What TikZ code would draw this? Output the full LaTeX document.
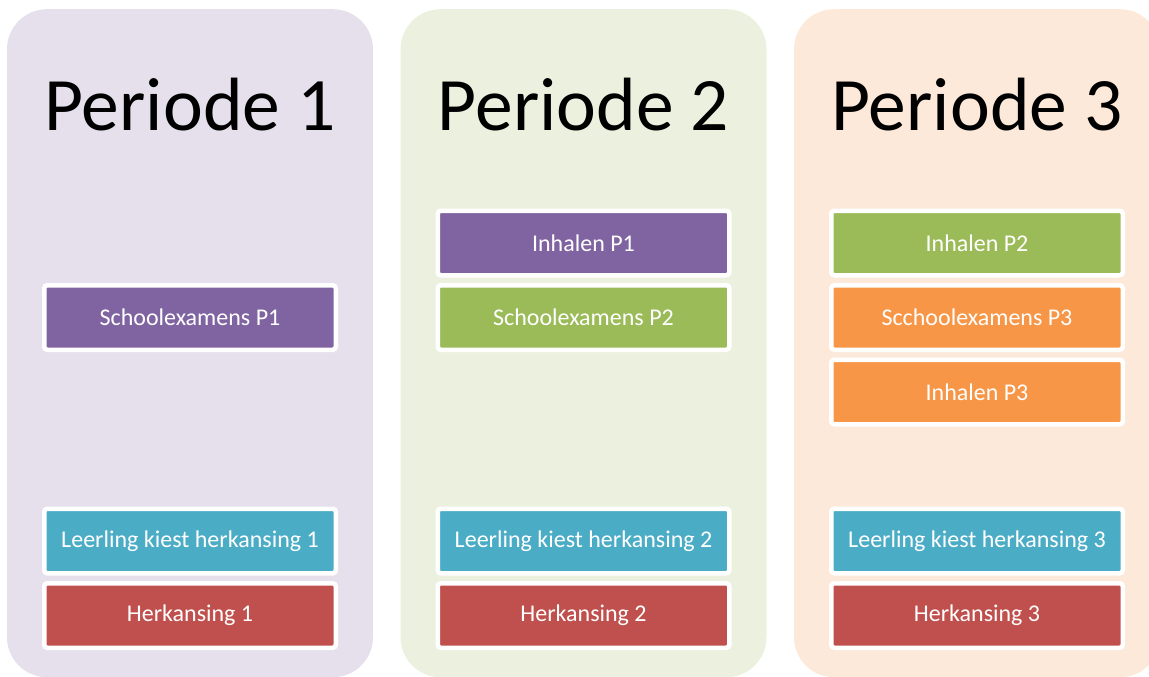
\documentclass[tikz,border=0pt]{standalone}
\usepackage{fontspec}
\setmainfont{Carlito}
\usetikzlibrary{positioning}
\definecolor{lila}{HTML}{E5E0EC}
\definecolor{lichtgroen}{HTML}{EBF1DE}
\definecolor{perzik}{HTML}{FDE9D9}
\definecolor{paars}{HTML}{8064A2}
\definecolor{groen}{HTML}{9BBB59}
\definecolor{oranje}{HTML}{F79646}
\definecolor{blauw}{HTML}{4BACC6}
\definecolor{rood}{HTML}{C0504D}
\begin{document}
\begin{tikzpicture}[x=1pt,y=-1pt,
		kolom/.style={fill=#1,rounded corners=40pt,minimum width=366pt,minimum height=668pt,anchor=north,inner sep=0pt},
		titel/.style={font=\fontsize{75.5}{80}\selectfont,anchor=base},
		blok/.style={fill=#1,draw=white,line width=4.5pt,rounded corners=3pt,minimum width=291.5pt,minimum height=64.5pt,outer sep=0pt,text=white,font=\fontsize{24}{28}\selectfont},
		node distance=10pt]
	\useasboundingbox (0,0) rectangle (1149,677);
	\foreach \i/\x/\kleur in {1/190/lila,2/583.5/lichtgroen,3/977/perzik}{
		\node[kolom=\kleur] (kol\i) at (\x,9) {};
		\node[titel] (titel\i) at (\x,130) {Periode \i};
		\node[blok=blauw] (kiest\i) at (\x,541) {Leerling kiest herkansing \i};
		\node[blok=rood,below=of kiest\i] (herk\i) {Herkansing \i};
	}
	\node[blok=paars] (se1) at (190,317.5) {Schoolexamens P1};
	\node[blok=paars] (inh1) at (583.5,243) {Inhalen P1};
	\node[blok=groen,below=of inh1] (se2) {Schoolexamens P2};
	\node[blok=groen] (inh2) at (977,243) {Inhalen P2};
	\node[blok=oranje,below=of inh2] (se3) {Scchoolexamens P3};
	\node[blok=oranje,below=of se3] (inh3) {Inhalen P3};
\end{tikzpicture}
\end{document}
